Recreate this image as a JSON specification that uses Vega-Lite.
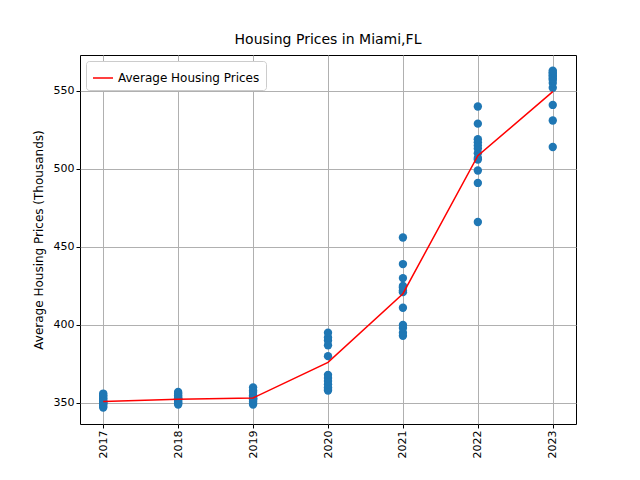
{
  "$schema": "https://vega.github.io/schema/vega-lite/v6.json",
  "width": 496,
  "height": 369,
  "padding": {"left": 32, "top": 33, "right": 10, "bottom": 5},
  "background": "white",
  "title": {"text": "Housing Prices in Miami,FL", "fontSize": 14, "fontWeight": "normal", "font": "DejaVu Sans", "color": "black", "offset": 8},
  "config": {
    "font": "DejaVu Sans",
    "view": {"stroke": "black", "strokeWidth": 1},
    "axis": {"grid": true, "gridColor": "#b0b0b0", "gridWidth": 1, "domain": false, "tickColor": "black", "labelColor": "black", "labelFontSize": 11, "titleFontSize": 12, "titleFontWeight": "normal", "titleColor": "black", "tickSize": 4}
  },
  "datasets": {
    "points": [
      {"year": 2017, "price": 347}, {"year": 2017, "price": 348}, {"year": 2017, "price": 349}, {"year": 2017, "price": 350}, {"year": 2017, "price": 351}, {"year": 2017, "price": 352}, {"year": 2017, "price": 353}, {"year": 2017, "price": 354}, {"year": 2017, "price": 355}, {"year": 2017, "price": 356}, {"year": 2017, "price": 350}, {"year": 2017, "price": 351},
      {"year": 2018, "price": 349}, {"year": 2018, "price": 350}, {"year": 2018, "price": 351}, {"year": 2018, "price": 352}, {"year": 2018, "price": 353}, {"year": 2018, "price": 354}, {"year": 2018, "price": 355}, {"year": 2018, "price": 356}, {"year": 2018, "price": 357}, {"year": 2018, "price": 350}, {"year": 2018, "price": 352}, {"year": 2018, "price": 353},
      {"year": 2019, "price": 349}, {"year": 2019, "price": 350}, {"year": 2019, "price": 351}, {"year": 2019, "price": 352}, {"year": 2019, "price": 353}, {"year": 2019, "price": 354}, {"year": 2019, "price": 355}, {"year": 2019, "price": 357}, {"year": 2019, "price": 358}, {"year": 2019, "price": 360}, {"year": 2019, "price": 352}, {"year": 2019, "price": 353},
      {"year": 2020, "price": 358}, {"year": 2020, "price": 359}, {"year": 2020, "price": 360}, {"year": 2020, "price": 362}, {"year": 2020, "price": 364}, {"year": 2020, "price": 366}, {"year": 2020, "price": 368}, {"year": 2020, "price": 380}, {"year": 2020, "price": 387}, {"year": 2020, "price": 390}, {"year": 2020, "price": 392}, {"year": 2020, "price": 395},
      {"year": 2021, "price": 393}, {"year": 2021, "price": 395}, {"year": 2021, "price": 398}, {"year": 2021, "price": 400}, {"year": 2021, "price": 411}, {"year": 2021, "price": 421}, {"year": 2021, "price": 422}, {"year": 2021, "price": 424}, {"year": 2021, "price": 425}, {"year": 2021, "price": 430}, {"year": 2021, "price": 439}, {"year": 2021, "price": 456},
      {"year": 2022, "price": 466}, {"year": 2022, "price": 491}, {"year": 2022, "price": 499}, {"year": 2022, "price": 506}, {"year": 2022, "price": 507}, {"year": 2022, "price": 510}, {"year": 2022, "price": 513}, {"year": 2022, "price": 515}, {"year": 2022, "price": 517}, {"year": 2022, "price": 519}, {"year": 2022, "price": 529}, {"year": 2022, "price": 540},
      {"year": 2023, "price": 514}, {"year": 2023, "price": 531}, {"year": 2023, "price": 541}, {"year": 2023, "price": 552}, {"year": 2023, "price": 555}, {"year": 2023, "price": 557}, {"year": 2023, "price": 558}, {"year": 2023, "price": 559}, {"year": 2023, "price": 560}, {"year": 2023, "price": 561}, {"year": 2023, "price": 562}, {"year": 2023, "price": 563}
    ],
    "avg": [
      {"year": 2017, "price": 351}, {"year": 2018, "price": 352.3}, {"year": 2019, "price": 353.2},
      {"year": 2020, "price": 376}, {"year": 2021, "price": 420}, {"year": 2022, "price": 508.5}, {"year": 2023, "price": 549.5}
    ]
  },
  "encoding": {
    "x": {"field": "year", "type": "quantitative", "title": null, "scale": {"domain": [2016.69, 2023.31], "nice": false, "zero": false},
      "axis": {"values": [2017, 2018, 2019, 2020, 2021, 2022, 2023], "format": "d", "labelAngle": -90, "labelAlign": "right", "labelBaseline": "middle"}},
    "y": {"field": "price", "type": "quantitative", "title": "Average Housing Prices (Thousands)", "scale": {"domain": [336.5, 573], "nice": false, "zero": false},
      "axis": {"values": [350, 400, 450, 500, 550], "titlePadding": 8}}
  },
  "layer": [
    {"data": {"name": "points"}, "mark": {"type": "circle", "size": 70, "color": "#1f77b4", "opacity": 1}},
    {"data": {"name": "avg"}, "mark": {"type": "line", "strokeWidth": 1.5},
      "encoding": {"color": {"datum": "Average Housing Prices", "scale": {"range": ["red"]},
        "legend": {"title": null, "orient": "top-left", "labelFontSize": 12, "symbolType": "stroke", "symbolSize": 400, "symbolStrokeWidth": 1.5, "strokeColor": "#cccccc", "fillColor": "white", "padding": 6, "cornerRadius": 3, "offset": 6}}}}
  ]
}
